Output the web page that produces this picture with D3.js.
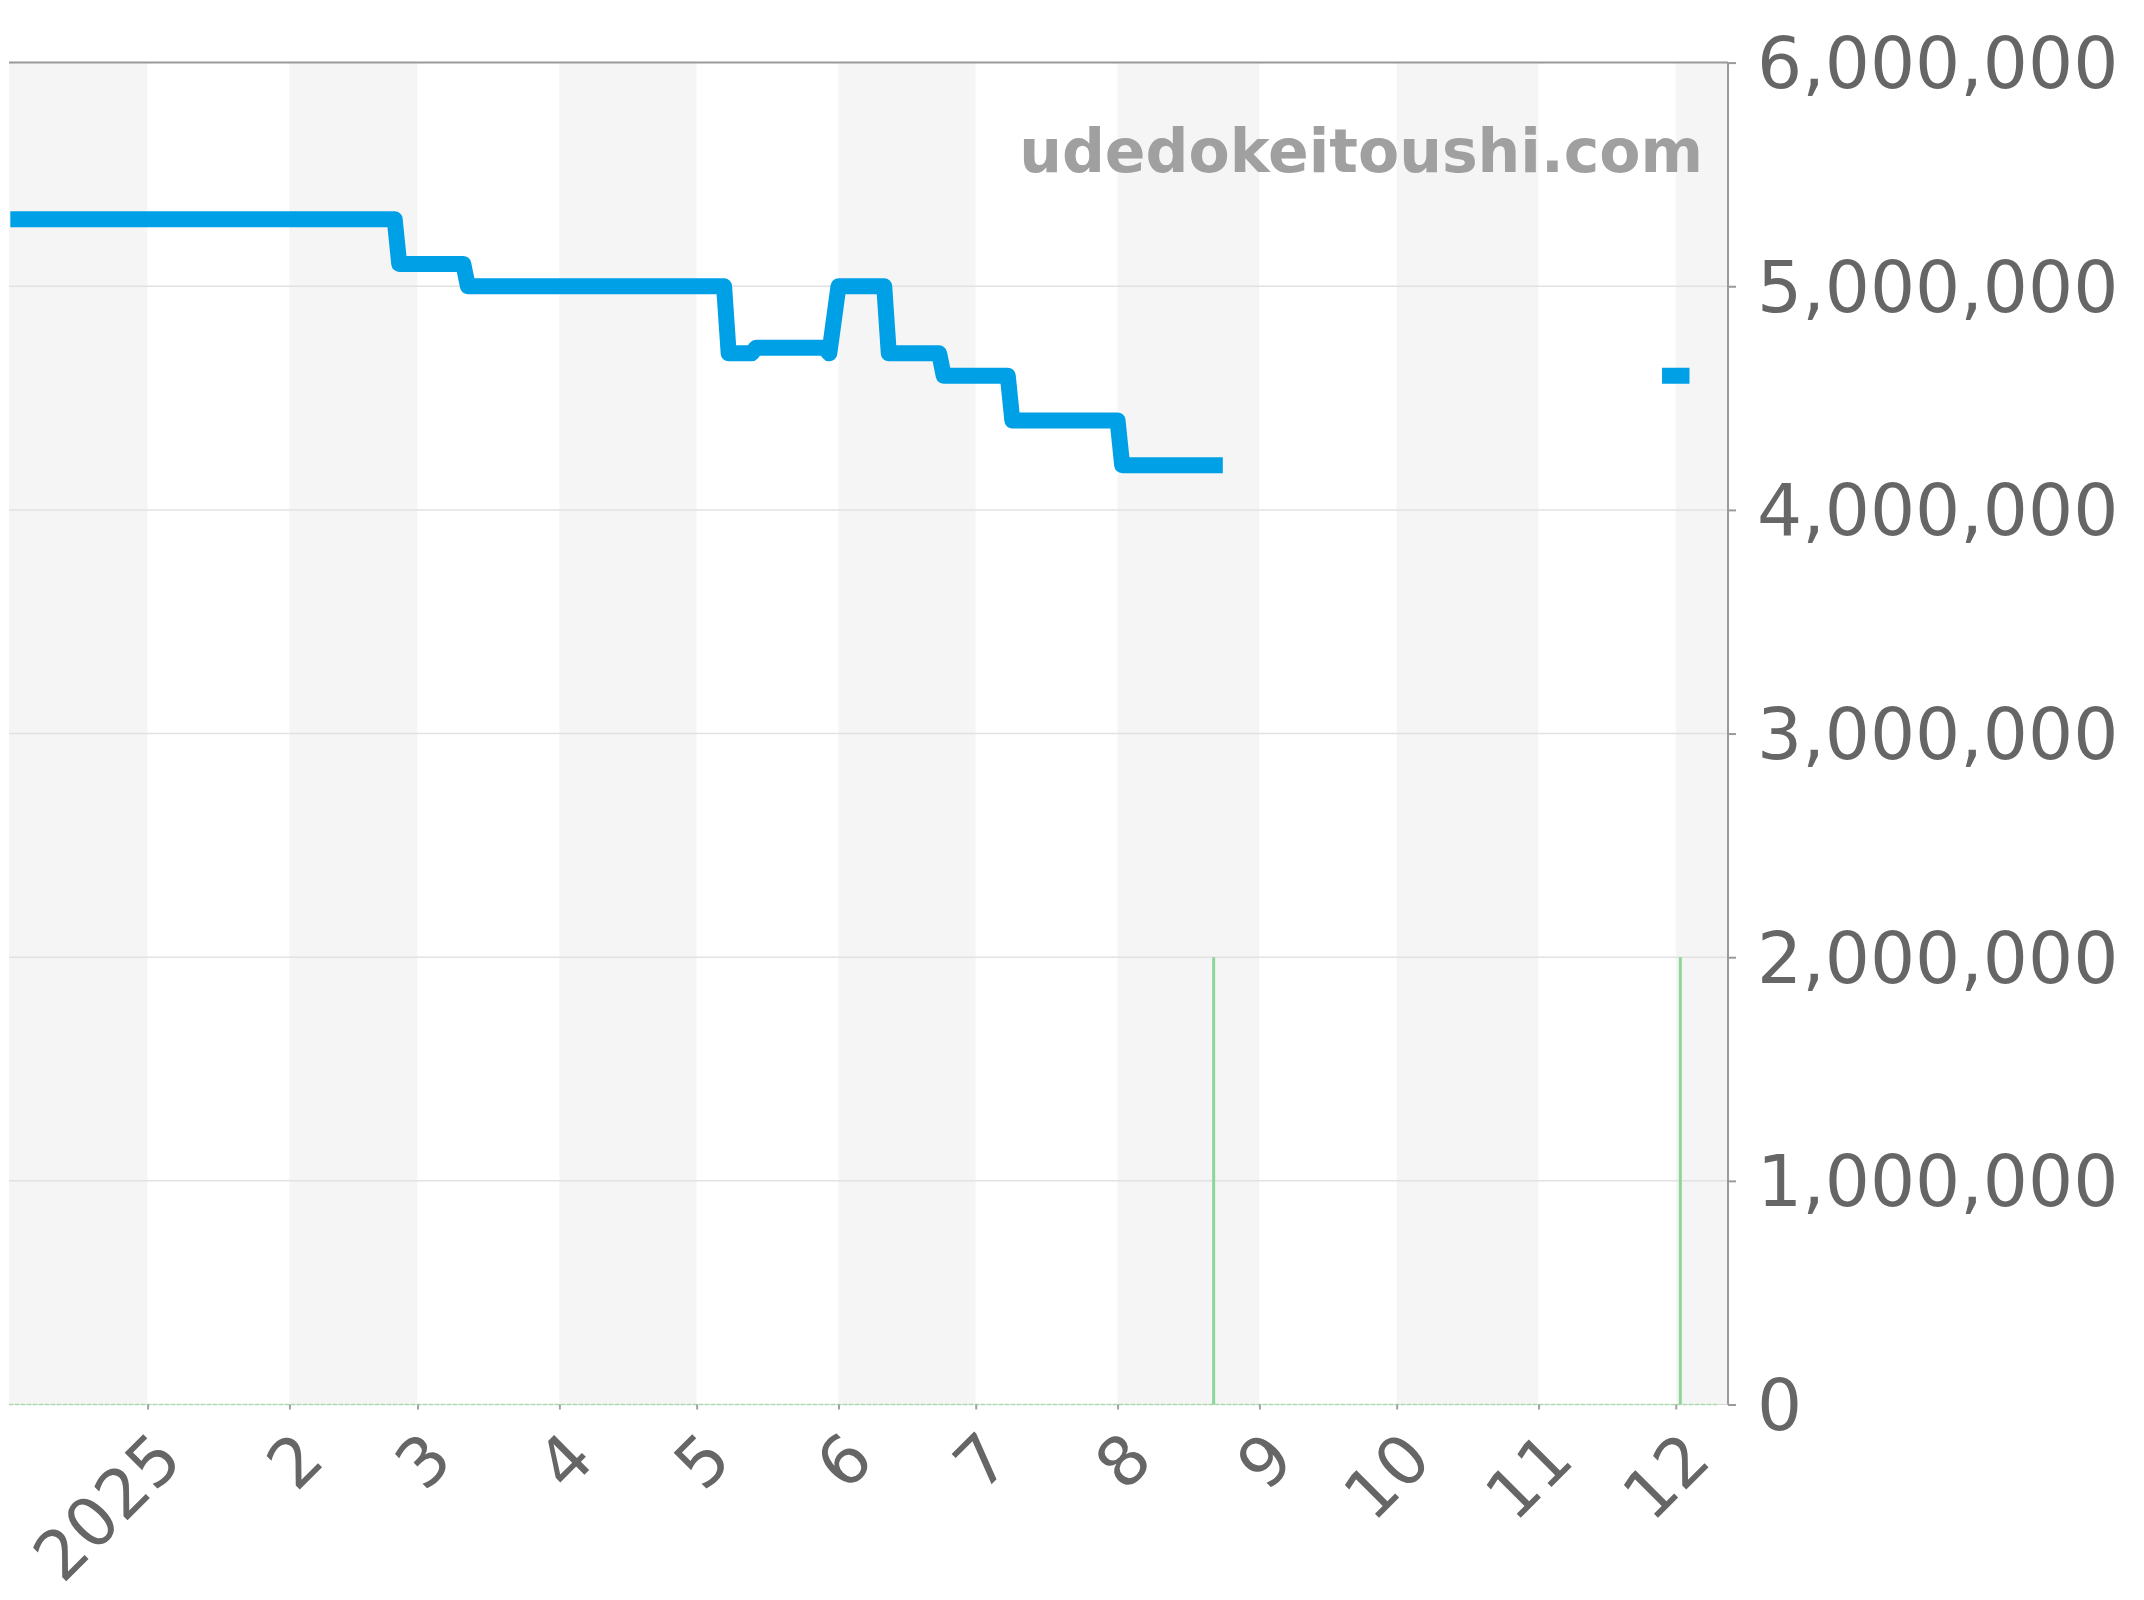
<!DOCTYPE html>
<html><head><meta charset="utf-8">
<script src="https://cdn.jsdelivr.net/npm/d3@7"></script>
<style>body{margin:0;background:#fff}svg{display:block}</style></head>
<body><svg id="c" width="2144" height="1600"></svg>
<script>
// ---- data ----
const priceDates = ["2024-12-02","2025-02-24","2025-02-25","2025-03-11","2025-03-12","2025-05-07","2025-05-08","2025-05-13","2025-05-14","2025-05-29","2025-05-30","2025-06-01","2025-06-11","2025-06-12","2025-06-23","2025-06-24","2025-07-08","2025-07-09","2025-08-01","2025-08-02","2025-08-24","2025-09-01","2025-11-28","2025-12-04"];
const priceValues = [5300000,5300000,5100000,5100000,5000000,5000000,4700000,4700000,4725000,4725000,4700000,5000000,5000000,4700000,4700000,4600000,4600000,4400000,4400000,4200000,4200000,null,4600000,4600000];
const barDates = ["2025-08-22","2025-12-02"];
const barValues = [2000000,2000000];
const yTicks = [0,1000000,2000000,3000000,4000000,5000000,6000000];
const xTickDates = ["2025-01-01","2025-02-01","2025-03-01","2025-04-01","2025-05-01","2025-06-01","2025-07-01","2025-08-01","2025-09-01","2025-10-01","2025-11-01","2025-12-01"];
const xTickLabels = ["2025","2","3","4","5","6","7","8","9","10","11","12"];
const watermark = "udedokeitoushi.com";

// ---- layout ----
const W = 2144, H = 1600;
const L = 9, R = 1728, T = 62.6, B = 1404.5;
const parse = d3.timeParse("%Y-%m-%d");
const svg = d3.select("#c");
svg.append("rect").attr("width",W).attr("height",H).attr("fill","#fff");

const x = d3.scaleTime().domain([new Date(2024,11,1,17), new Date(2025,11,12,10)]).range([L,R]);
const y = d3.scaleLinear().domain([0,6000000]).range([B,T]);

svg.append("clipPath").attr("id","clip").append("rect")
  .attr("x",L).attr("y",T-20).attr("width",R-L).attr("height",B-T+20);

// month bands
const [d0,d1] = x.domain();
const months = d3.timeMonth.range(d3.timeMonth.floor(d0), d1);
svg.append("g").selectAll("rect").data(months).join("rect")
  .attr("x", m => x(m < d0 ? d0 : m))
  .attr("width", m => { const e = d3.timeMonth.offset(m,1); return x(e > d1 ? d1 : e) - x(m < d0 ? d0 : m); })
  .attr("y", T).attr("height", B-T)
  .attr("fill", m => m.getMonth()%2===1 ? "#f5f5f5" : "#ffffff");

// gridlines
svg.append("g").selectAll("line").data(yTicks.slice(1,-1)).join("line")
  .attr("x1",L).attr("x2",R).attr("y1",d=>y(d)).attr("y2",d=>y(d))
  .attr("stroke","#e2e2e2").attr("stroke-width",1.5);

// top frame line
svg.append("line").attr("x1",L).attr("x2",R).attr("y1",T).attr("y2",T)
  .attr("stroke","#9a9a9a").attr("stroke-width",2);

// baseline
svg.append("line").attr("x1",L).attr("x2",R).attr("y1",B).attr("y2",B)
  .attr("stroke","#d8d8d8").attr("stroke-width",1);
svg.append("line").attr("x1",L).attr("x2",R-10).attr("y1",B).attr("y2",B)
  .attr("stroke","#a6dfae").attr("stroke-width",1.5).attr("stroke-dasharray","4,2");

// bars (green)
svg.append("g").selectAll("line").data(barDates.map((d,i)=>({d:parse(d),v:barValues[i]}))).join("line")
  .attr("x1",d=>x(d.d)).attr("x2",d=>x(d.d)).attr("y1",y(0)).attr("y2",d=>y(d.v))
  .attr("stroke","#8dd69a").attr("stroke-width",3);

// watermark
svg.append("text").attr("x",1703).attr("y",172).attr("text-anchor","end")
  .attr("font-family","DejaVu Sans").attr("font-weight","bold").attr("font-size",60)
  .attr("fill","#a0a0a0").text(watermark);

// price line
const pts = priceDates.map((d,i)=>({d:parse(d),v:priceValues[i]}));
const line = d3.line().defined(p=>p.v!==null).x(p=>x(p.d)).y(p=>y(p.v));
svg.append("path").datum(pts).attr("clip-path","url(#clip)")
  .attr("d",line).attr("fill","none").attr("stroke","#00a0e6")
  .attr("stroke-width",16).attr("stroke-linejoin","round").attr("stroke-linecap","butt");

// right axis
const yAxis = d3.axisRight(y).tickValues(yTicks).tickFormat(d3.format(",")).tickSize(8).tickPadding(21);
const ga = svg.append("g").attr("transform",`translate(${R},0)`).call(yAxis);
ga.select(".domain").attr("stroke","#9a9a9a").attr("stroke-width",2).attr("d",`M0,${T}V${B}`);
ga.selectAll(".tick line").attr("stroke","#9a9a9a").attr("stroke-width",2);
ga.selectAll(".tick text").attr("fill","#666").attr("font-family","DejaVu Sans").attr("font-size",71).attr("dy","0.35em");

// bottom axis
const xt = xTickDates.map(parse);
const xAxis = d3.axisBottom(x).tickValues(xt).tickFormat((d,i)=>xTickLabels[i]).tickSize(5).tickSizeOuter(0);
const gb = svg.append("g").attr("transform",`translate(0,${B})`).call(xAxis);
gb.select(".domain").remove();
gb.selectAll(".tick line").attr("stroke","#a0a0a0").attr("stroke-width",2);
gb.selectAll(".tick text").attr("fill","#666").attr("font-family","DejaVu Sans").attr("font-size",68)
  .attr("text-anchor","end").attr("dy",null).attr("y",null)
  .attr("transform","translate(37,58) rotate(-45)");
</script></body></html>
